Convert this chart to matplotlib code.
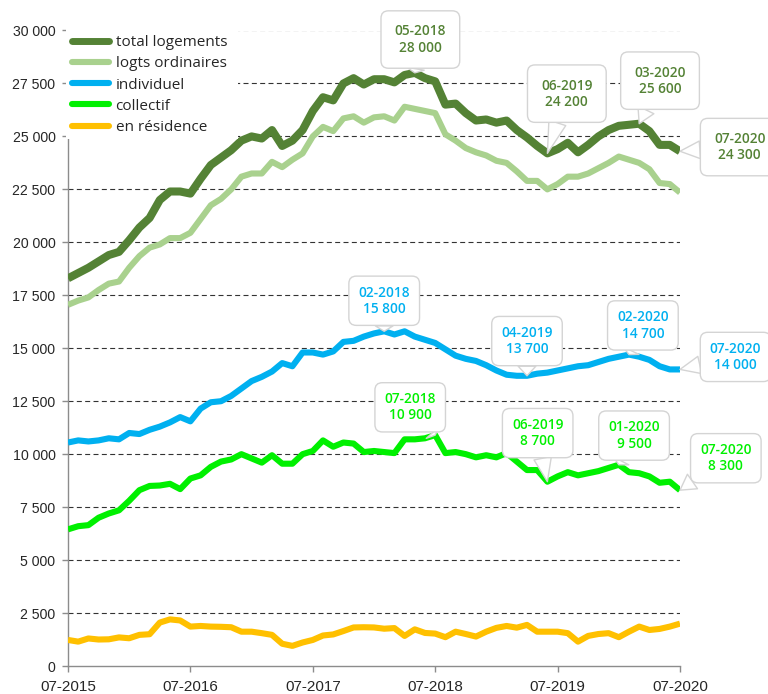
import matplotlib
matplotlib.use("Agg")
import matplotlib.pyplot as plt
from matplotlib.lines import Line2D
from matplotlib.patches import Rectangle

# ---------------- data ----------------
months = [f"{(6 + k) % 12 + 1:02d}-{2015 + (6 + k) // 12}" for k in range(61)]  # 07-2015 .. 07-2020

total_logements = [18300, 18550, 18800, 19100, 19400, 19550, 20100, 20700, 21150, 22000,
                   22400, 22400, 22300, 23000, 23650, 24000, 24350, 24800, 25000, 24900,
                   25300, 24550, 24800, 25300, 26200, 26850, 26700, 27500, 27750, 27450,
                   27700, 27700, 27550, 27900, 28000, 27750, 27600, 26500, 26550, 26100,
                   25750, 25800, 25650, 25750, 25300, 24950, 24550, 24200, 24400, 24700,
                   24250, 24600, 25000, 25300, 25500, 25550, 25600, 25250, 24600, 24600,
                   24300]
logts_ordinaires = [17050, 17250, 17400, 17750, 18050, 18150, 18800, 19350, 19750, 19900,
                    20200, 20200, 20450, 21100, 21750, 22050, 22500, 23100, 23250, 23250,
                    23800, 23550, 23900, 24200, 25000, 25450, 25250, 25850, 25950, 25650,
                    25900, 25950, 25750, 26400, 26300, 26200, 26100, 25100, 24800, 24450,
                    24250, 24100, 23850, 23750, 23350, 22900, 22900, 22500, 22750, 23100,
                    23100, 23250, 23500, 23750, 24050, 23900, 23750, 23450, 22800, 22750,
                    22350]
individuel = [10550, 10650, 10600, 10650, 10750, 10700, 11000, 10950, 11150, 11300,
              11500, 11750, 11550, 12150, 12450, 12500, 12750, 13100, 13450, 13650,
              13900, 14300, 14150, 14800, 14800, 14700, 14850, 15300, 15350, 15550,
              15700, 15800, 15650, 15800, 15550, 15400, 15250, 14950, 14650, 14500,
              14400, 14200, 13950, 13750, 13700, 13700, 13800, 13850, 13950, 14050,
              14150, 14200, 14350, 14500, 14600, 14700, 14600, 14450, 14150, 14000,
              14000]
collectif = [6450, 6600, 6650, 7000, 7200, 7350, 7800, 8300, 8500, 8520,
             8600, 8350, 8850, 9000, 9400, 9650, 9750, 10000, 9800, 9600,
             9950, 9550, 9550, 10000, 10150, 10650, 10350, 10550, 10500, 10100,
             10150, 10100, 10050, 10700, 10700, 10750, 10900, 10050, 10100, 10000,
             9850, 9950, 9850, 10050, 9650, 9250, 9250, 8700, 8950, 9150,
             9000, 9100, 9200, 9350, 9500, 9150, 9100, 8950, 8650, 8700,
             8300]
en_residence = [1230, 1150, 1300, 1250, 1260, 1350, 1310, 1470, 1500, 2050,
                2200, 2150, 1860, 1890, 1860, 1850, 1830, 1620, 1620, 1550,
                1470, 1050, 950, 1110, 1230, 1440, 1490, 1650, 1820, 1830,
                1820, 1760, 1790, 1420, 1730, 1560, 1530, 1360, 1620, 1510,
                1390, 1620, 1800, 1890, 1810, 1940, 1620, 1620, 1620, 1550,
                1150, 1420, 1510, 1550, 1360, 1620, 1860, 1700, 1750, 1860,
                2000]

series_names = ["total logements", "logts ordinaires", "individuel", "collectif", "en résidence"]
series_values = [total_logements, logts_ordinaires, individuel, collectif, en_residence]
series_colors = ["#548235", "#A9D18E", "#00B0F0", "#00F000", "#FFC000"]
series_widths = [5.8, 4.4, 4.4, 4.4, 4.4]

yticks = list(range(0, 30001, 2500))
xtick_idx = [0, 12, 24, 36, 48, 60]

# callouts: (series index, month index, offset in points)
callouts = [
    (0, 34, (4, 24)), (0, 47, (14, 43)), (0, 56, (15, 31)), (0, 60, (43, 3)),
    (2, 31, (0, 22)), (2, 45, (0, 25)), (2, 55, (10, 21)), (2, 60, (40, 9)),
    (3, 36, (-18, 20)), (3, 47, (-7, 35)), (3, 54, (11, 21)), (3, 60, (33, 23)),
]

# ---------------- figure ----------------
W, H = 768, 694
fig = plt.figure(figsize=(W / 100, H / 100), dpi=100)
ax = fig.add_axes([68 / W, 1 - 666 / H, (680 - 68) / W, (666 - 30.5) / H])

x = list(range(len(months)))
for vals, col, lw in zip(series_values, series_colors, series_widths):
    ax.plot(x, vals, color=col, lw=lw, solid_joinstyle="round", solid_capstyle="butt", zorder=3)

ax.set_xlim(0, len(months) - 1)
ax.set_ylim(0, 30000)
ax.set_yticks(yticks)
ax.set_yticklabels([f"{v:,}".replace(",", " ") for v in yticks],
                   fontfamily="Liberation Sans", fontsize=10.2, color="#262626")
ax.set_xticks(xtick_idx)
ax.set_xticklabels([months[i] for i in xtick_idx],
                   fontfamily="Liberation Sans", fontsize=11, color="#262626")

for s in ["top", "right"]:
    ax.spines[s].set_visible(False)
for s in ["left", "bottom"]:
    ax.spines[s].set_color("#8c8c8c")
    ax.spines[s].set_linewidth(1.0)
ax.tick_params(axis="both", direction="out", length=4, width=1, color="#8c8c8c")
ax.tick_params(axis="x", pad=6)
ax.tick_params(axis="y", pad=5)

ax.set_axisbelow(True)
ax.yaxis.grid(True, linestyle=(0, (4.5, 3)), color="#333333", lw=0.8)
ax.get_ygridlines()[0].set_visible(False)

# white legend background covering the grid/spine in the top-left
ax.add_patch(Rectangle((66 / W, 1 - 138.5 / H), (238 - 66) / W, (138.5 - 18) / H,
                       transform=fig.transFigure, facecolor="white", edgecolor="none",
                       zorder=4, clip_on=False))

handles = [Line2D([], [], color=c, lw=(5.0 if i == 0 else 4.4), solid_capstyle="round")
           for i, c in enumerate(series_colors)]
leg = ax.legend(handles, series_names, loc="upper left",
                bbox_to_anchor=(72 / W, 1 - 35 / H), bbox_transform=fig.transFigure,
                frameon=False, borderpad=0, borderaxespad=0, handlelength=2.45,
                handletextpad=0.4, labelspacing=0.41,
                prop={"family": "Open Sans", "size": 11})
for t in leg.get_texts():
    t.set_color("#262626")
leg.set_zorder(5)

for si, mi, (dx, dy) in callouts:
    val = series_values[si][mi]
    col = series_colors[si]
    label = f"{months[mi]}\n{val:,}".replace(",", " ")
    pad = 1.0 if si == 0 else 0.7
    ax.annotate(label, xy=(mi, val), xytext=(dx, dy), textcoords="offset points",
                ha="center", va="center", fontsize=9.8, fontfamily="Open Sans",
                fontweight="semibold", color=col, linespacing=1.2, zorder=7,
                annotation_clip=False,
                bbox=dict(boxstyle=f"round,pad={pad},rounding_size=0.55", fc="white",
                          ec="#d4d4d4", lw=1.0),
                arrowprops=dict(arrowstyle="wedge,tail_width=1.3,shrink_factor=0.5",
                                fc="white", ec="#d4d4d4", lw=1.0,
                                shrinkA=0, shrinkB=0))

fig.savefig("out.png", dpi=100)
